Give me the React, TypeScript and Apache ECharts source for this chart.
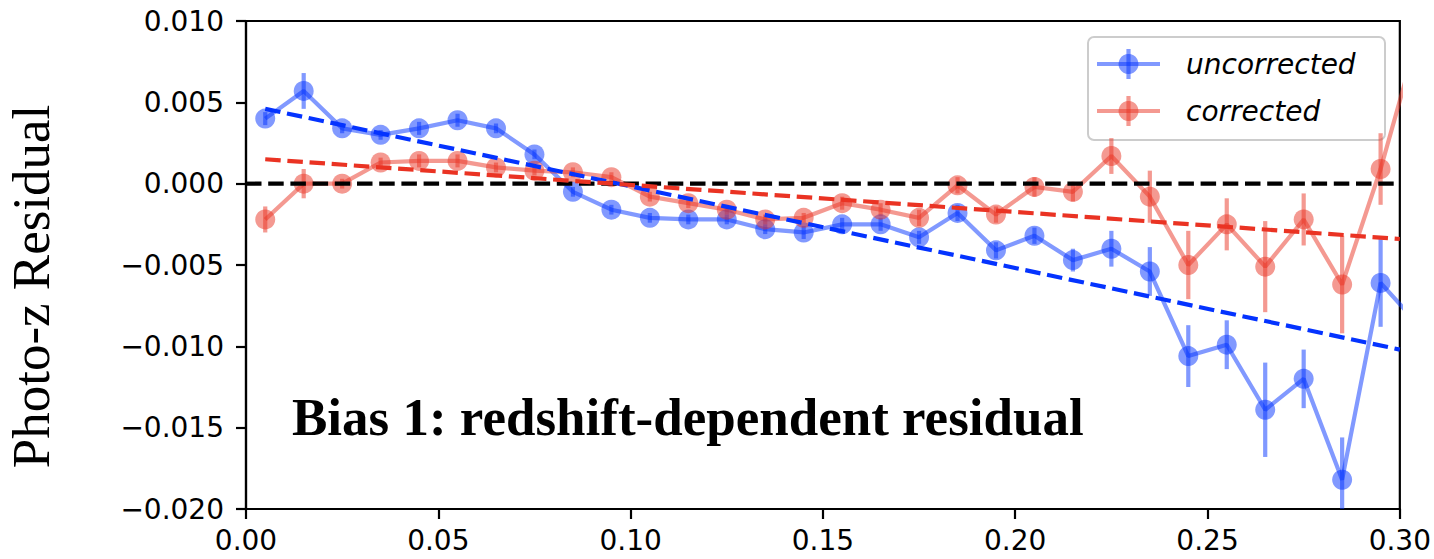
import React, { useEffect, useRef } from "react";
import * as echarts from "echarts";

const zBins = [0.005, 0.015, 0.025, 0.035, 0.045, 0.055, 0.065, 0.075, 0.085, 0.095, 0.105, 0.115, 0.125, 0.135, 0.145, 0.155, 0.165, 0.175, 0.185, 0.195, 0.205, 0.215, 0.225, 0.235, 0.245, 0.255, 0.265, 0.275, 0.285, 0.295, 0.305];

const uncorrected = [0.0040, 0.0057, 0.0034, 0.0030, 0.0034, 0.0039, 0.0034, 0.0018, -0.0005, -0.0016, -0.0021, -0.0022, -0.0022, -0.0028, -0.0030, -0.0025, -0.0025, -0.0033, -0.0018, -0.0041, -0.0032, -0.0047, -0.0040, -0.0054, -0.0106, -0.0099, -0.0139, -0.0120, -0.0182, -0.0061, -0.0087];
const uncorrectedErr = [0.0004, 0.0011, 0.0003, 0.0003, 0.0004, 0.0004, 0.0003, 0.0003, 0.0003, 0.0003, 0.0003, 0.0003, 0.0003, 0.0003, 0.0004, 0.0004, 0.0004, 0.0004, 0.0005, 0.0005, 0.0005, 0.0007, 0.0011, 0.0015, 0.0019, 0.0015, 0.0029, 0.0018, 0.0026, 0.0027, 0.0027];

const corrected = [-0.0022, 0.0000, 0.0000, 0.0013, 0.0014, 0.0014, 0.0010, 0.0008, 0.0007, 0.0004, -0.0008, -0.0012, -0.0016, -0.0022, -0.0021, -0.0012, -0.0016, -0.0021, -0.0001, -0.0019, -0.0002, -0.0005, 0.0017, -0.0008, -0.0050, -0.0025, -0.0051, -0.0022, -0.0062, 0.0009, 0.0093];
const correctedErr = [0.0008, 0.0009, 0.0003, 0.0003, 0.0004, 0.0004, 0.0003, 0.0003, 0.0003, 0.0003, 0.0003, 0.0003, 0.0003, 0.0003, 0.0003, 0.0004, 0.0004, 0.0005, 0.0005, 0.0005, 0.0006, 0.0006, 0.0011, 0.0016, 0.0021, 0.0016, 0.0028, 0.0016, 0.0030, 0.0022, 0.0022];

const fitX = [0.005, 0.30];
const uncorrectedFit = [0.0046, -0.0102];
const correctedFit = [0.0015, -0.0034];
const zeroX = [0.0, 0.30];
const zeroY = [0.0, 0.0];

const xTicks = [0.0, 0.05, 0.1, 0.15, 0.2, 0.25, 0.3];
const yTicks = [-0.02, -0.015, -0.01, -0.005, 0.0, 0.005, 0.01];

const legendNames = ["uncorrected", "corrected"];
const yAxisTitle = "Photo-z Residual";
const annotation = "Bias 1: redshift-dependent residual";

const BLUE = "#0433ff";
const RED = "#ea3323";
const LW = 4.2;
const DASH = [15.5, 6.7];

const fmtNum = (v: number, d: number) => {
  const s = Math.abs(v).toFixed(d);
  return v < -1e-12 ? "\u2212" + s : s;
};

const pairs = (xs: number[], ys: number[]) => xs.map((x, i) => [x, ys[i]]);
const triples = (xs: number[], ys: number[], es: number[]) => xs.map((x, i) => [x, ys[i], es[i]]);

function errorSeries(data: number[][], color: string) {
  return {
    type: "custom",
    silent: true,
    clip: true,
    z: 2,
    data,
    encode: { x: 0, y: 1 },
    renderItem: (params: any, api: any) => {
      const x = api.value(0);
      const y = api.value(1);
      const e = api.value(2);
      const p1 = api.coord([x, y + e]);
      const p2 = api.coord([x, y - e]);
      return {
        type: "line",
        shape: { x1: p1[0], y1: p1[1], x2: p2[0], y2: p2[1] },
        style: { stroke: color, lineWidth: LW, opacity: 0.5 },
      };
    },
  };
}

function dataSeries(name: string, data: number[][], color: string) {
  return {
    type: "line",
    name,
    silent: true,
    clip: true,
    z: 3,
    data,
    symbol: "circle",
    symbolSize: 20,
    showAllSymbol: true,
    itemStyle: { color, opacity: 0.5 },
    lineStyle: { color, width: LW, opacity: 0.5 },
    emphasis: { disabled: true },
  };
}

function dashSeries(name: string, data: number[][], color: string) {
  return {
    type: "line",
    name,
    silent: true,
    clip: true,
    z: 4,
    data,
    symbol: "none",
    lineStyle: { color, width: LW, type: DASH },
    emphasis: { disabled: true },
  };
}

function legendItem(y: number, color: string, label: string) {
  return [
    { type: "line", shape: { x1: 1097, y1: y, x2: 1160, y2: y }, style: { stroke: color, lineWidth: LW, opacity: 0.5 } },
    { type: "line", shape: { x1: 1128.5, y1: y - 15, x2: 1128.5, y2: y + 15 }, style: { stroke: color, lineWidth: LW, opacity: 0.5 } },
    { type: "circle", shape: { cx: 1128.5, cy: y, r: 10 }, style: { fill: color, opacity: 0.5 } },
    {
      type: "text",
      x: 1186,
      y,
      style: {
        text: label,
        font: 'italic 28px "DejaVu Sans"',
        fill: "#000",
        textAlign: "left",
        textVerticalAlign: "middle",
      },
    },
  ];
}

export default function App() {
  const ref = useRef<HTMLDivElement>(null);
  useEffect(() => {
    if (!ref.current) return;
    const chart = echarts.init(ref.current, null, { renderer: "svg" });
    const axisLabelStyle = { fontFamily: "DejaVu Sans", fontSize: 28, color: "#000" };
    chart.setOption({
      animation: false,
      backgroundColor: "#fff",
      grid: { left: 246, top: 21, right: 34, bottom: 50, show: true, borderColor: "#000", borderWidth: 2.2, backgroundColor: "transparent" },
      xAxis: {
        type: "value",
        min: xTicks[0],
        max: xTicks[xTicks.length - 1],
        interval: 0.05,
        splitLine: { show: false },
        axisLine: { show: true, onZero: false, lineStyle: { color: "#000", width: 2.2 } },
        axisTick: { show: true, length: 10, lineStyle: { color: "#000", width: 2.2 } },
        axisLabel: { ...axisLabelStyle, margin: 17, formatter: (v: number) => fmtNum(v, 2) },
      },
      yAxis: {
        type: "value",
        min: yTicks[0],
        max: yTicks[yTicks.length - 1],
        interval: 0.005,
        splitLine: { show: false },
        axisLine: { show: true, onZero: false, lineStyle: { color: "#000", width: 2.2 } },
        axisTick: { show: true, length: 10, lineStyle: { color: "#000", width: 2.2 } },
        axisLabel: { ...axisLabelStyle, margin: 22, formatter: (v: number) => fmtNum(v, 3) },
      },
      series: [
        dashSeries("zero", pairs(zeroX, zeroY), "#000"),
        errorSeries(triples(zBins, uncorrected, uncorrectedErr), BLUE),
        errorSeries(triples(zBins, corrected, correctedErr), RED),
        dataSeries(legendNames[0], pairs(zBins, uncorrected), BLUE),
        dataSeries(legendNames[1], pairs(zBins, corrected), RED),
        dashSeries("uncorrected fit", pairs(fitX, uncorrectedFit), BLUE),
        dashSeries("corrected fit", pairs(fitX, correctedFit), RED),
      ],
      graphic: [
        {
          type: "text",
          x: 31,
          y: 286.5,
          rotation: Math.PI / 2,
          style: {
            text: yAxisTitle,
            font: '53px "Liberation Serif"',
            fill: "#000",
            textAlign: "center",
            textVerticalAlign: "middle",
          },
        },
        {
          type: "text",
          x: 292,
          y: 417,
          z: 10,
          style: {
            text: annotation,
            font: 'bold 53px "Liberation Serif"',
            fill: "#000",
            textAlign: "left",
            textVerticalAlign: "middle",
          },
        },
        {
          type: "group",
          z: 20,
          children: [
            {
              type: "rect",
              shape: { x: 1088, y: 37, width: 297, height: 103, r: 6 },
              style: { fill: "rgba(255,255,255,0.8)", stroke: "#cccccc", lineWidth: 2 },
            },
            ...legendItem(64, BLUE, legendNames[0]),
            ...legendItem(111, RED, legendNames[1]),
          ],
        },
      ],
    });
    return () => chart.dispose();
  }, []);
  return <div ref={ref} style={{ position: "absolute", left: 0, top: 0, width: 1434, height: 559 }} />;
}
